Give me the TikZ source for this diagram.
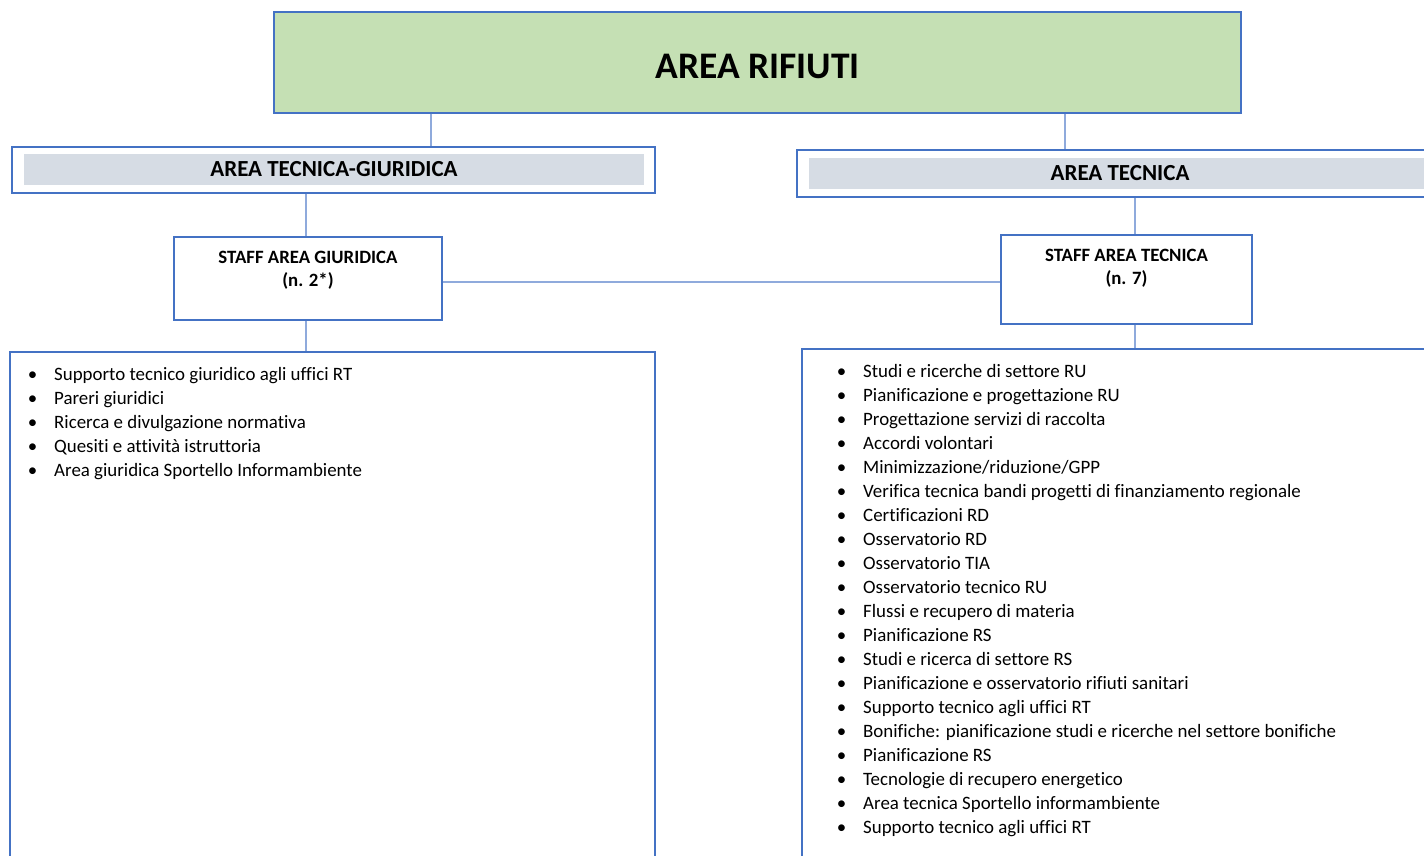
\documentclass[tikz,border=0pt]{standalone}
\usepackage{fontspec}
\setmainfont{Carlito}[Ligatures={NoCommon,NoRequired}]
\usetikzlibrary{calc}

\definecolor{frameblue}{HTML}{4472C4}
\definecolor{linkblue}{HTML}{8FAADC}
\definecolor{titlegreen}{HTML}{C5E0B4}
\definecolor{bargray}{HTML}{D6DCE4}

\tikzset{
  box/.style={draw=frameblue, line width=1.4pt, fill=white, inner sep=0pt},
  bar/.style={fill=bargray, inner sep=0pt, font=\fontsize{23}{26}\selectfont\bfseries},
  stafftext/.style={anchor=north, align=center, inner sep=0pt, font=\fontsize{18.8}{23}\selectfont\bfseries},
  item/.style={anchor=base west, inner sep=0pt, font=\fontsize{18.9}{24}\selectfont},
  conn/.style={draw=linkblue, line width=1.1pt}
}
\newcommand{\bul}[1]{\llap{\textbullet\hspace{17pt}}#1}

\begin{document}
\begin{tikzpicture}[x=1pt,y=-1pt]
\useasboundingbox (0,0) rectangle (1424,856);
\clip (0,0) rectangle (1424,856);
\fill[white] (0,0) rectangle (1424,856);

% Title box
\node[box, fill=titlegreen, minimum width=967, minimum height=101,
  text height=33pt, text depth=0pt,
  font=\fontsize{37.5}{40}\selectfont\bfseries] (rifiuti) at (757.5,62.5) {AREA RIFIUTI};

% Area headers
\node[box, minimum width=643, minimum height=46] (tgFrame) at (333.5,170) {};
\node[bar, minimum width=620, minimum height=31] (tg) at (334,169.5) {AREA TECNICA-GIURIDICA};
\node[box, minimum width=643, minimum height=47] (tcFrame) at (1118.5,173.5) {};
\node[bar, minimum width=622, minimum height=31] (tc) at (1120,173.5) {AREA TECNICA};

% Staff boxes
\node[box, minimum width=268, minimum height=83] (sg) at (308,278.5) {};
\node[stafftext] (sgText) at (308,251) {STAFF AREA GIURIDICA\\(n. 2*)};
\node[box, minimum width=251, minimum height=89] (st) at (1126.5,279.5) {};
\node[stafftext] (stText) at (1126.5,249) {STAFF AREA TECNICA\\(n. 7)};

% List boxes
\node[box, minimum width=645, minimum height=548] (lg) at (332.5,626) {};
\node[box, minimum width=643, minimum height=551] (lt) at (1123.5,624.5) {};

% Connectors
\coordinate (kA) at (431,0);
\coordinate (kB) at (1065,0);
\coordinate (kC) at (306,0);
\coordinate (kD) at (1135,0);
\coordinate (kE) at (0,282);
\draw[conn] (rifiuti.south -| kA) -- (tgFrame.north -| kA);
\draw[conn] (rifiuti.south -| kB) -- (tcFrame.north -| kB);
\draw[conn] (tgFrame.south -| kC) -- (sg.north -| kC);
\draw[conn] (tcFrame.south -| kD) -- (st.north -| kD);
\draw[conn] (sg.east |- kE) -- (st.west |- kE);
\draw[conn] (sg.south -| kC) -- (lg.north -| kC);
\draw[conn] (st.south -| kD) -- (lt.north -| kD);

% Left list
\foreach \t [count=\i] in {Supporto tecnico giuridico agli uffici RT, Pareri giuridici,
  Ricerca e divulgazione normativa, Quesiti e attività istruttoria,
  Area giuridica Sportello Informambiente}
  \node[item] (g\i) at (54,{380+24*(\i-1)}) {\bul{\t}};

% Right list
\foreach \t [count=\i] in {Studi e ricerche di settore RU, Pianificazione e progettazione RU,
  Progettazione servizi di raccolta, Accordi volontari, Minimizzazione/riduzione/GPP,
  Verifica tecnica bandi progetti di finanziamento regionale, Certificazioni RD,
  Osservatorio RD, Osservatorio TIA, Osservatorio tecnico RU, Flussi e recupero di materia,
  Pianificazione RS, Studi e ricerca di settore RS, Pianificazione e osservatorio rifiuti sanitari,
  Supporto tecnico agli uffici RT, Bonifiche: pianificazione studi e ricerche nel settore bonifiche,
  Pianificazione RS, Tecnologie di recupero energetico, Area tecnica Sportello informambiente,
  Supporto tecnico agli uffici RT}
  \node[item] (t\i) at (863,{377+24.05*(\i-1)}) {\bul{\t}};

\end{tikzpicture}
\end{document}
